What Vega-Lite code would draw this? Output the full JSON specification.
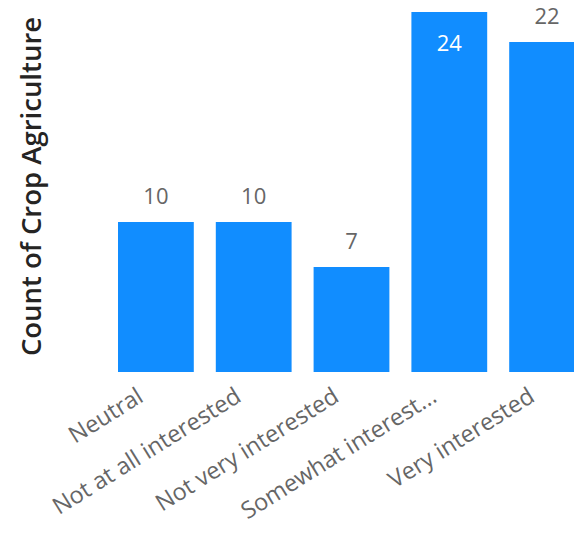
{
  "$schema": "https://vega.github.io/schema/vega-lite/v6.json",
  "autosize": {"type": "none"},
  "width": 467,
  "height": 360,
  "padding": {"left": 107, "top": 12, "right": 0, "bottom": 161},
  "background": "white",
  "config": {"view": {"stroke": null}},
  "data": {"values": [
    {"interest": "Neutral", "count": 10},
    {"interest": "Not at all interested", "count": 10},
    {"interest": "Not very interested", "count": 7},
    {"interest": "Somewhat interested", "count": 24},
    {"interest": "Very interested", "count": 22}
  ]},
  "encoding": {
    "x": {
      "field": "interest", "type": "nominal", "sort": null,
      "scale": {"range": [0, 489], "paddingInner": 0.225, "paddingOuter": 0.1125},
      "axis": {
        "title": null, "labelAngle": -32, "labelFontSize": 23.5, "labelFont": "Open Sans",
        "labelColor": "#666666", "ticks": false, "domain": false, "labelPadding": 28,
        "labelAlign": "right", "labelBaseline": "alphabetic",
        "labelLimit": 400, "labelOffset": -11,
        "labelExpr": "datum.label == 'Somewhat interested' ? 'Somewhat interest...' : datum.label"
      }
    },
    "y": {
      "field": "count", "type": "quantitative",
      "scale": {"domain": [0, 24], "nice": false},
      "axis": {
        "title": "Count of Crop Agriculture", "titleFontSize": 27.5, "titleFont": "Open Sans",
        "titleFontWeight": 600, "titleColor": "#252423", "labels": false, "ticks": false,
        "domain": false, "grid": false, "titlePadding": 61, "titleY": 174
      }
    }
  },
  "layer": [
    {"mark": {"type": "bar", "color": "#118DFF", "clip": true}},
    {
      "transform": [{"filter": "datum.count < 24"}],
      "mark": {"type": "text", "font": "Open Sans", "fontSize": 22, "color": "#666666", "baseline": "middle", "dy": -25},
      "encoding": {"text": {"field": "count", "type": "quantitative"}}
    },
    {
      "transform": [{"filter": "datum.count >= 24"}],
      "mark": {"type": "text", "font": "Open Sans", "fontSize": 22, "color": "#ffffff", "baseline": "middle", "dy": 32},
      "encoding": {"text": {"field": "count", "type": "quantitative"}}
    }
  ]
}
